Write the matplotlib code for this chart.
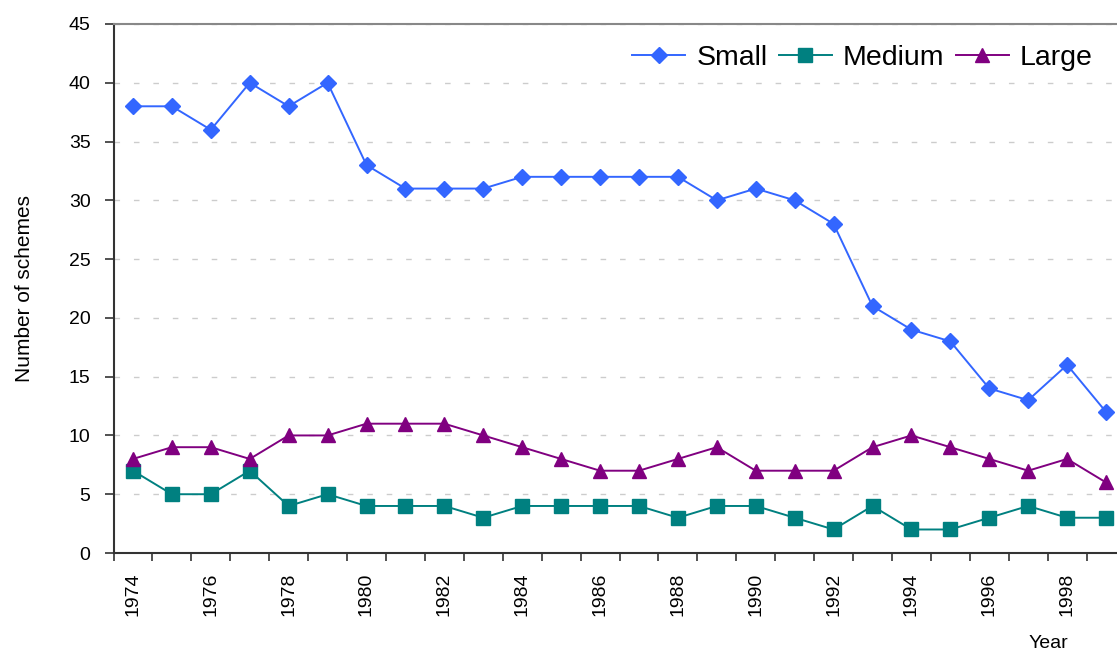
import matplotlib
matplotlib.use('Agg')
import matplotlib.pyplot as plt

plt.rcParams['font.family'] = ['Liberation Sans', 'DejaVu Sans']

# Dados
anos = list(range(1974, 2000))
small = [38, 38, 36, 40, 38, 40, 33, 31, 31, 31, 32, 32, 32, 32, 32, 30, 31, 30, 28, 21, 19, 18, 14, 13, 16, 12]
medium = [7, 5, 5, 7, 4, 5, 4, 4, 4, 3, 4, 4, 4, 4, 3, 4, 4, 3, 2, 4, 2, 2, 3, 4, 3, 3]
large = [8, 9, 9, 8, 10, 10, 11, 11, 11, 10, 9, 8, 7, 7, 8, 9, 7, 7, 7, 9, 10, 9, 8, 7, 8, 6]

fig = plt.figure(figsize=(11.17, 6.51), dpi=100)
# o gráfico original é cortado na margem direita
ax = fig.add_axes([113.5 / 1117, 1 - 553 / 651, 1012 / 1117, (553 - 24) / 651])

ax.plot(anos, small, color='#3366FF', marker='D', markersize=8, lw=1.4, label='Small')
ax.plot(anos, medium, color='#008080', marker='s', markersize=10, lw=1.4, label='Medium')
ax.plot(anos, large, color='#800080', marker='^', markersize=10.5, lw=1.4, label='Large')

ax.set_xlim(anos[0] - 0.5, anos[-1] + 0.5)
ax.set_ylim(0, 45)
ax.set_yticks(range(0, 46, 5))
ax.yaxis.grid(True, color='#cccccc', linestyle=(0, (4, 10)), lw=1)
ax.set_axisbelow(True)

# rótulos nos anos pares, marcas entre as categorias
ax.set_xticks(anos[::2])
ax.set_xticklabels([str(a) for a in anos[::2]], rotation=90)
ax.set_xticks([a - 0.5 for a in anos] + [anos[-1] + 0.5], minor=True)
ax.tick_params(axis='x', which='major', length=0, pad=14, labelsize=14)
ax.tick_params(axis='x', which='minor', length=5.5, direction='out', color='#333333', width=1.2)
ax.tick_params(axis='y', length=6.5, direction='out', color='#333333', width=1.2, labelsize=14, pad=10)

for s in ['left', 'bottom']:
    ax.spines[s].set_color('#333333')
    ax.spines[s].set_linewidth(1.5)
ax.spines['top'].set_color('#888888')
ax.spines['top'].set_linewidth(1.5)
ax.spines['right'].set_visible(False)

ax.set_ylabel('Number of schemes', fontsize=15, labelpad=25)
fig.text(1048 / 1117, 1 - 643 / 651, 'Year', ha='center', va='center', fontsize=14)

ax.legend(loc='upper right', bbox_to_anchor=(0.993, 1.008), ncol=3, frameon=False,
          fontsize=20.5, handlelength=1.85, columnspacing=0.4, handletextpad=0.4)

plt.savefig('out.png', dpi=100)
